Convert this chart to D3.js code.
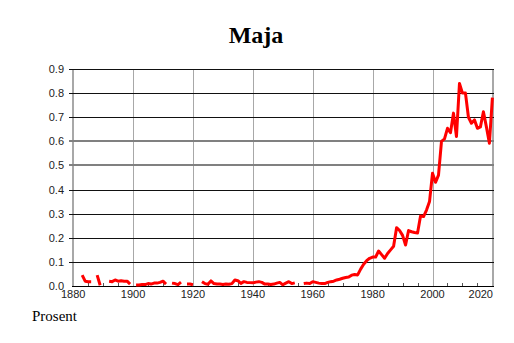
<!DOCTYPE html>
<html>
<head>
<meta charset="utf-8">
<script src="https://cdn.jsdelivr.net/npm/d3@7"></script>
<style>
  body { margin: 0; background: #fff; }
  svg { display: block; }
</style>
</head>
<body>
<div id="my_dataviz"></div>
<script>
// yearly share (prosent), 1880 - 2020, null = no data
var firstYear = 1880;
var values = [
  null, null, null, 0.045, 0.02, 0.018, 0.018, null, 0.045, 0.003,          // 1880
  null, null, 0.02, 0.018, 0.025, 0.02, 0.022, 0.02, 0.02, 0.008,            // 1890
  null, 0.004, 0.004, 0.006, 0.006, 0.01, 0.008, 0.012, 0.012, 0.015,        // 1900
  0.02, 0.008, null, 0.012, 0.01, 0.006, 0.016, null, 0.008, 0.008,          // 1910
  0.005, null, null, 0.018, 0.01, 0.007, 0.021, 0.01, 0.008, 0.008,          // 1920
  0.006, 0.008, 0.007, 0.01, 0.025, 0.022, 0.011, 0.018, 0.015, 0.014,       // 1930
  0.013, 0.016, 0.018, 0.015, 0.008, 0.008, 0.006, 0.008, 0.012, 0.015,      // 1940
  0.005, 0.012, 0.018, 0.01, 0.013, null, null, 0.01, 0.012, 0.01,           // 1950
  0.018, 0.015, 0.012, 0.01, 0.01, 0.015, 0.018, 0.02, 0.025, 0.028,         // 1960
  0.032, 0.035, 0.037, 0.045, 0.048, 0.046, 0.07, 0.09, 0.105, 0.115,        // 1970
  0.12, 0.12, 0.145, 0.13, 0.115, 0.135, 0.15, 0.165, 0.242, 0.23,           // 1980
  0.21, 0.17, 0.23, 0.225, 0.222, 0.22, 0.29, 0.288, 0.315, 0.35,            // 1990
  0.468, 0.43, 0.46, 0.6, 0.61, 0.654, 0.636, 0.717, 0.62, 0.84,             // 2000
  0.8, 0.8, 0.7, 0.675, 0.689, 0.654, 0.66, 0.723, 0.66, 0.592,              // 2010
  0.781                                                                       // 2020
];
var xTicks = [1880, 1900, 1920, 1940, 1960, 1980, 2000, 2020];
var yTicks = [0, 0.1, 0.2, 0.3, 0.4, 0.5, 0.6, 0.7, 0.8, 0.9];

var data = values.map(function(v, i) { return {year: firstYear + i, value: v}; });

var width = 514, height = 343;
var pLeft = 72, pRight = 493, pTop = 69, pBottom = 286;

var svg = d3.select("#my_dataviz")
  .append("svg")
    .attr("width", width)
    .attr("height", height);

var x = d3.scaleLinear()
  .domain([1879.6, 2020.2])
  .range([pLeft, pRight]);

var y = d3.scaleLinear()
  .domain([0, 0.9])
  .range([pBottom, pTop]);

// title
svg.append("text")
  .attr("x", 256)
  .attr("y", 43)
  .attr("text-anchor", "middle")
  .style("font-family", "'Liberation Serif', 'Times New Roman', serif")
  .style("font-weight", "bold")
  .style("font-size", "24px")
  .text("Maja");

// vertical grid
svg.selectAll(".vgrid")
  .data(xTicks)
  .enter()
  .append("line")
    .attr("class", "vgrid")
    .attr("x1", function(d) { return Math.round(x(d)) + 0.5; })
    .attr("x2", function(d) { return Math.round(x(d)) + 0.5; })
    .attr("y1", pTop)
    .attr("y2", pBottom)
    .style("stroke", "#a8a8a8")
    .style("stroke-width", 1);

// left axis line + right frame
svg.append("line")
  .attr("x1", pLeft + 0.5).attr("x2", pLeft + 0.5)
  .attr("y1", pTop).attr("y2", pBottom)
  .style("stroke", "#a8a8a8");
svg.append("line")
  .attr("x1", pRight + 0.5).attr("x2", pRight + 0.5)
  .attr("y1", pTop).attr("y2", pBottom)
  .style("stroke", "#a8a8a8");

// horizontal grid (0.5 and 0.6 come out blurred in the original)
function blurred(d) { return d == 0.5 || d == 0.6; }
svg.selectAll(".hgrid")
  .data(yTicks.slice(1))
  .enter()
  .append("line")
    .attr("class", "hgrid")
    .attr("x1", pLeft - 3)
    .attr("x2", pRight + 1)
    .attr("y1", function(d) { return blurred(d) ? Math.round(y(d)) : Math.round(y(d)) + 0.5; })
    .attr("y2", function(d) { return blurred(d) ? Math.round(y(d)) : Math.round(y(d)) + 0.5; })
    .style("stroke", function(d) { return blurred(d) ? "#808080" : "#111"; })
    .style("stroke-width", function(d) { return blurred(d) ? 2 : 1; });

// minor x ticks every 5 years
var minor = d3.range(1885, 2020, 5).filter(function(d) { return d % 20 != 0; });
svg.selectAll(".minor")
  .data(minor)
  .enter()
  .append("line")
    .attr("class", "minor")
    .attr("x1", function(d) { return Math.round(x(d)) + 0.5; })
    .attr("x2", function(d) { return Math.round(x(d)) + 0.5; })
    .attr("y1", pBottom - 3)
    .attr("y2", pBottom)
    .style("stroke", "#555");

// x axis line
svg.append("line")
  .attr("x1", pLeft).attr("x2", pRight + 1)
  .attr("y1", pBottom + 0.5).attr("y2", pBottom + 0.5)
  .style("stroke", "#000");

// y labels
svg.selectAll(".ylab")
  .data(yTicks)
  .enter()
  .append("text")
    .attr("class", "ylab")
    .attr("x", 64)
    .attr("y", function(d) { return y(d) + 4; })
    .attr("text-anchor", "end")
    .style("font-family", "'Liberation Sans', Arial, sans-serif")
    .style("font-size", "11px")
    .style("fill", "#222")
    .text(function(d) { return d3.format(".1f")(d); });

// x labels
svg.selectAll(".xlab")
  .data(xTicks)
  .enter()
  .append("text")
    .attr("class", "xlab")
    .attr("x", function(d) { return d == 2020 ? pRight : x(d); })
    .attr("y", 298)
    .attr("text-anchor", function(d) { return d == 2020 ? "end" : "middle"; })
    .style("font-family", "'Liberation Sans', Arial, sans-serif")
    .style("font-size", "11px")
    .style("fill", "#222")
    .text(function(d) { return d; });

// the line
var line = d3.line()
  .defined(function(d) { return d.value != null; })
  .x(function(d) { return x(d.year); })
  .y(function(d) { return y(d.value); });

svg.append("path")
  .datum(data)
  .attr("d", line)
  .style("fill", "none")
  .style("stroke", "#ff0000")
  .style("stroke-width", 3)
  .style("stroke-linejoin", "round");

// unit label
svg.append("text")
  .attr("x", 32)
  .attr("y", 321)
  .style("font-family", "'Liberation Serif', 'Times New Roman', serif")
  .style("font-size", "15px")
  .text("Prosent");
</script>
</body>
</html>
